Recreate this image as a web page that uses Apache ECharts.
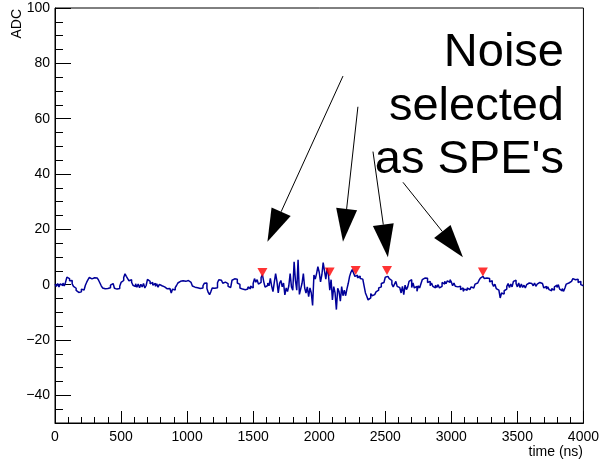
<!DOCTYPE html>
<html>
<head>
<meta charset="utf-8">
<script src="https://cdn.jsdelivr.net/npm/echarts@6/dist/echarts.min.js"></script>
<style>
  html, body { margin: 0; padding: 0; background: #ffffff; }
  #chart { width: 602px; height: 462px; }
</style>
</head>
<body>
<div id="chart"></div>
<script>
// Digitised waveform: one ADC value per 10 ns bin, 0 .. 4000 ns
const binWidthNs = 10;
const adcValues = [
  // 0 - 200 ns
  0.2, -0.6, 0.4, -0.8, 0.3, -0.3, 0.6, -0.5, 0.9, 2.7,
  2.2, 1.4, 1.5, 0.3, -0.6, -1.3, -2.1, -2.8, -3.5, -2.6,
  // 200 - 400 ns
  -1.6, -1.9, -1.2, -0.2, 0.9, 1.8, 2.6, 2.1, 2.8, 2.5,
  2.9, 2.4, 2.7, 1.6, 0.6, -0.4, -1.2, -1.5, -1.0, -1.4,
  // 400 - 600 ns
  -0.8, -1.1, -0.2, 0.4, 0.1, -1.3, -1.6, -1.0, -1.4, -0.6,
  0.8, 1.5, 2.6, 3.9, 3.0, 2.2, 1.4, 1.8, 0.9, -0.2,
  // 600 - 800 ns
  -0.7, 0.3, -0.9, 0.2, -1.1, 0.1, -0.8, 0.4, -1.2, -0.3,
  1.9, 1.2, 0.3, 0.8, -0.2, 0.5, -0.6, 0.3, -0.9, 0.1,
  // 800 - 1000 ns
  -0.4, 0.3, -0.8, -0.2, -1.5, -1.9, -1.4, -2.0, -3.0, -1.6,
  -1.9, -1.1, -0.3, 0.6, 1.2, 1.7, 1.4, 1.8, 1.2, 1.6,
  // 1000 - 1200 ns
  1.5, 1.0, 0.8, 0.3, -0.5, -0.9, -0.6, -1.1, -0.7, -1.4,
  -1.0, -1.2, -0.4, 0.5, 0.6, -1.4, -2.8, -3.6, -2.5, -1.2,
  // 1200 - 1400 ns
  -1.3, -0.8, -1.1, 0.7, 1.8, 1.6, 0.9, 0.5, 0.9, 0.3,
  0.4, -0.6, -1.0, -0.5, 1.6, 2.1, 1.9, 2.0, 0.6, 0.1,
  // 1400 - 1600 ns
  -1.2, -1.6, -1.4, -1.8, -1.3, -1.6, -0.8, -1.5, -0.5, -1.2,
  0.4, 2.2, 0.9, 1.8, 0.2, 0.8, 2.6, 3.6, 1.1, -0.9,
  // 1600 - 1800 ns
  -0.3, 0.6, -0.4, 2.3, -0.5, -2.5, 0.8, 4.0, 1.2, -3.0,
  0.5, 1.5, -0.8, 0.6, -3.7, -1.2, -2.5, -0.4, 4.0, -0.8,
  // 1800 - 2000 ns
  -2.0, 8.3, 1.5, -2.0, 9.0, -3.5, -1.5, 0.5, 4.0, -1.2,
  -3.0, -0.8, -4.3, -1.2, -3.0, -7.5, 3.5, 2.0, 4.0, 6.5,
  // 2000 - 2200 ns
  4.5, 1.0, 3.5, 8.0, 5.0, 2.0, 6.0, 3.5, -2.0, 1.8,
  -5.5, -0.7, -3.0, -9.0, -1.3, -2.5, -6.0, -0.7, -4.0, -2.0,
  // 2200 - 2400 ns
  -4.0, -1.5, 0.5, 3.0, 4.5, 5.5, 4.2, 3.0, 3.4, 2.5,
  3.1, 2.2, 2.0, 1.5, -0.5, -3.0, -4.2, -5.5, -4.8, -3.2,
  // 2400 - 2600 ns
  -4.0, -3.6, -3.0, -2.6, -2.0, -1.2, -0.8, 0.4, 0.8, 1.4,
  2.7, 3.0, 2.6, 2.2, 1.5, 0.2, -0.8, 0.2, 1.2, -0.6,
  // 2600 - 2800 ns
  -1.1, -0.4, -3.0, -0.6, -3.6, -0.2, -1.8, -0.8, 1.2, 1.8,
  -1.0, 0.6, -1.2, -0.6, -2.4, -0.4, -1.2, 0.3, 1.8, 2.4,
  // 2800 - 3000 ns
  1.9, 2.3, 0.8, 1.2, -0.4, 0.6, -0.6, -1.2, -0.2, -1.0,
  0.0, -1.2, -0.6, 0.8, 0.2, 1.2, 0.4, 1.4, 0.8, 1.8,
  // 3000 - 3200 ns
  1.0, -0.4, 0.6, -0.6, -0.8, -1.2, -0.6, -1.8, -1.2, -2.4,
  -1.6, -2.0, -1.2, -1.8, -1.4, -0.8, -1.2, -0.6, 0.2, 0.6,
  // 3200 - 3400 ns
  0.8, 1.6, 2.4, 3.0, 2.6, 2.2, 2.4, 1.8, 2.2, 1.0,
  1.4, 0.4, -0.6, 0.2, -1.4, -2.0, -2.4, -4.8, -3.0, -3.4,
  // 3400 - 3600 ns
  -2.2, -1.6, -0.6, 0.4, -1.0, 0.2, -0.8, 1.2, 1.6, 0.4,
  -0.8, 0.6, -1.0, 0.2, -1.0, -0.2, -1.2, 0.0, 0.6, 1.2,
  // 3600 - 3800 ns
  0.4, 1.0, -0.4, 0.6, -0.6, 0.2, 0.8, 1.2, 0.4, 0.8,
  -1.2, -0.6, -1.6, -0.8, -1.8, -2.2, -1.4, -2.0, -0.8, -0.2,
  // 3800 - 4000 ns
  -1.0, 0.0, -1.6, -2.2, -1.4, -2.4, -1.2, 0.2, 0.6, 0.2,
  1.2, 1.6, 2.2, 1.8, 2.4, 2.0, 0.8, 1.2, 0.0, -0.4
];

// Pulses picked up by the SPE finder
const speTimes = [1570, 2079, 2276, 2513, 3239];
const speValues = [4.4, 4.6, 5.1, 5.1, 4.6];

// Annotation arrows: tail (time, ADC) -> head (time, ADC)
const arrowTailTimes = [2180, 2293, 2407, 2634];
const arrowTailValues = [75.4, 64.3, 48.1, 37.0];
const arrowHeadTimes = [1608, 2180, 2520, 3088];
const arrowHeadValues = [15.5, 15.5, 9.9, 9.9];

// Axis ranges and labelled ticks
const xMin = 0, xMax = 4000;
const yMin = -50, yMax = 100;
const xTickLabels = [0, 500, 1000, 1500, 2000, 2500, 3000, 3500, 4000];
const yTickLabels = [-40, -20, 0, 20, 40, 60, 80, 100];

const waveform = adcValues.map((v, i) => [i * binWidthNs, v]);
waveform.push([xMax, adcValues[adcValues.length - 1]]);

const speData = speTimes.map((t, i) => [t, speValues[i]]);
const arrowData = arrowTailTimes.map((t, i) =>
  [t, arrowTailValues[i], arrowHeadTimes[i], arrowHeadValues[i]]);

const FONT = '"Liberation Sans", Arial, Helvetica, sans-serif';
const fmt = v => (v < 0 ? '\u2212' + (-v) : String(v));

const chart = echarts.init(document.getElementById('chart'), null, { renderer: 'canvas' });

const labelStyle = { color: '#000', fontFamily: FONT, fontSize: 14 };
const tickLine = { color: '#000', width: 1 };

chart.setOption({
  animation: false,
  backgroundColor: '#ffffff',
  grid: {
    left: 55, top: 8, width: 529, height: 415,
    show: true, borderColor: '#000', borderWidth: 1, backgroundColor: 'transparent'
  },
  xAxis: [
    {
      type: 'value', position: 'bottom', min: xMin, max: xMax, interval: 500,
      axisLine: { show: true, onZero: false, lineStyle: tickLine },
      axisTick: { show: true, inside: true, length: 12, customValues: xTickLabels, lineStyle: tickLine },
      axisLabel: { show: true, margin: 7, customValues: xTickLabels, formatter: fmt, ...labelStyle },
      splitLine: { show: false }
    },
    {
      type: 'value', position: 'bottom', min: xMin, max: xMax, interval: 100,
      axisLine: { show: false, onZero: false },
      axisTick: { show: true, inside: true, length: 6, lineStyle: tickLine },
      axisLabel: { show: false },
      splitLine: { show: false }
    }
  ],
  yAxis: [
    {
      type: 'value', position: 'left', offset: 0, min: yMin, max: yMax, interval: 10,
      axisLine: { show: true, onZero: false, lineStyle: tickLine },
      axisTick: { show: true, inside: true, length: 16, customValues: yTickLabels, lineStyle: tickLine },
      axisLabel: { show: true, margin: 5, customValues: yTickLabels, formatter: fmt, ...labelStyle },
      splitLine: { show: false }
    },
    {
      type: 'value', position: 'left', offset: 0, min: yMin, max: yMax, interval: 5,
      axisLine: { show: false, onZero: false },
      axisTick: { show: true, inside: true, length: 8, lineStyle: tickLine },
      axisLabel: { show: false },
      splitLine: { show: false }
    }
  ],
  graphic: [
    {
      type: 'text', x: 17, y: 9, rotation: Math.PI / 2,
      style: { text: 'ADC', fill: '#000', font: '14px ' + FONT, textAlign: 'right', textVerticalAlign: 'middle' }
    },
    {
      type: 'text', x: 583, y: 452,
      style: { text: 'time (ns)', fill: '#000', font: '14px ' + FONT, textAlign: 'right', textVerticalAlign: 'middle' }
    },
    {
      type: 'text', x: 564, y: 53.5,
      style: { text: 'Noise', fill: '#000', font: '47px ' + FONT, textAlign: 'right', textVerticalAlign: 'middle' }
    },
    {
      type: 'text', x: 564, y: 107.5,
      style: { text: 'selected', fill: '#000', font: '47px ' + FONT, textAlign: 'right', textVerticalAlign: 'middle' }
    },
    {
      type: 'text', x: 564, y: 160.5,
      style: { text: "as SPE's", fill: '#000', font: '47px ' + FONT, textAlign: 'right', textVerticalAlign: 'middle' }
    }
  ],
  series: [
    {
      name: 'waveform', type: 'line', xAxisIndex: 0, yAxisIndex: 0,
      step: 'end', symbol: 'none', showSymbol: false,
      lineStyle: { color: '#000099', width: 1.5 },
      data: waveform, z: 2
    },
    {
      name: 'SPE', type: 'scatter', xAxisIndex: 0, yAxisIndex: 0,
      symbol: 'triangle', symbolRotate: 180, symbolSize: [10, 9],
      itemStyle: { color: '#ff0000' },
      data: speData, z: 3
    },
    {
      name: 'arrows', type: 'custom', xAxisIndex: 0, yAxisIndex: 0,
      encode: { x: [0, 2], y: [1, 3] },
      data: arrowData, z: 4, silent: true,
      renderItem: function (params, api) {
        const p0 = api.coord([api.value(0), api.value(1)]);
        const p1 = api.coord([api.value(2), api.value(3)]);
        const dx = p1[0] - p0[0], dy = p1[1] - p0[1];
        const len = Math.sqrt(dx * dx + dy * dy);
        const ux = dx / len, uy = dy / len;
        const headLen = 33, halfW = 10.5;
        const bx = p1[0] - ux * headLen, by = p1[1] - uy * headLen;
        return {
          type: 'group',
          children: [
            { type: 'line', shape: { x1: p0[0], y1: p0[1], x2: bx, y2: by },
              style: { stroke: '#000', lineWidth: 1 } },
            { type: 'polygon',
              shape: { points: [[p1[0], p1[1]],
                                [bx - uy * halfW, by + ux * halfW],
                                [bx + uy * halfW, by - ux * halfW]] },
              style: { fill: '#000' } }
          ]
        };
      }
    }
  ]
});
</script>
</body>
</html>
